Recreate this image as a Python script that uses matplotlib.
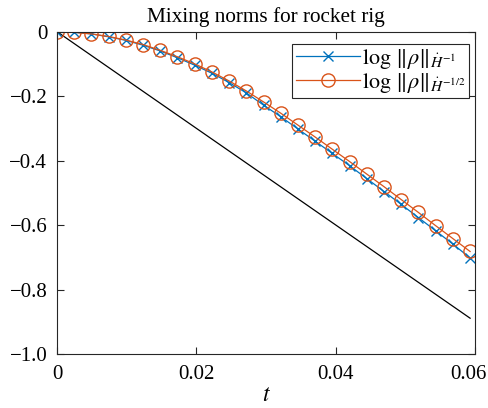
import numpy as np
import matplotlib.pyplot as plt
import matplotlib.transforms as mtransforms

plt.rcParams['font.family'] = ['Liberation Serif', 'DejaVu Serif']
plt.rcParams['mathtext.fontset'] = 'stix'

# sample times (markers)
t = [0.0, 0.00247, 0.00494, 0.00741, 0.00988, 0.01235, 0.01482, 0.01729,
     0.01976, 0.02223, 0.0247, 0.02717, 0.02964, 0.03211, 0.03458, 0.03705,
     0.03952, 0.04199, 0.04446, 0.04693, 0.0494, 0.05187, 0.05434, 0.05681, 0.05928]
norm_m1 = [0.0, -0.002, -0.007, -0.016, -0.027, -0.042, -0.060, -0.081, -0.104,
           -0.129, -0.158, -0.190, -0.228, -0.264, -0.302, -0.340, -0.378, -0.416,
           -0.456, -0.496, -0.536, -0.577, -0.618, -0.659, -0.702]
norm_mhalf = [0.0, -0.002, -0.007, -0.015, -0.026, -0.040, -0.058, -0.078, -0.100,
              -0.125, -0.153, -0.184, -0.218, -0.253, -0.290, -0.327, -0.365, -0.403,
              -0.442, -0.481, -0.521, -0.561, -0.602, -0.642, -0.682]
ref_t = [0.0, 0.05928]
ref_y = [0.0, -0.889]

xticks = [0, 0.02, 0.04, 0.06]
xticklabels = ['0', '0.02', '0.04', '0.06']
yticks = [0, -0.2, -0.4, -0.6, -0.8, -1.0]
yticklabels = ['0', '\u22120.2', '\u22120.4', '\u22120.6', '\u22120.8', '\u22121.0']

fig = plt.figure(figsize=(4.89, 4.08), dpi=100)
ax = fig.add_axes([0.1166, 0.1324, 0.855, 0.79])

ax.plot(ref_t, ref_y, color='k', lw=0.9)
ax.plot(t, norm_m1, color='#0072BD', lw=0.9, marker='x', ms=7, mew=1.0,
        label=r'$\log\,\|\rho\|_{\dot{H}^{-1}}$')
ax.plot(t, norm_mhalf, color='#D95319', lw=0.9, marker='o', ms=9.5, mew=1.0,
        mfc='none', label=r'$\log\,\|\rho\|_{\dot{H}^{-1/2}}$')

ax.set_xlim(0, 0.06)
ax.set_ylim(-1.0, 0)
ax.set_xticks(xticks)
ax.set_xticklabels(xticklabels)
ax.set_yticks(yticks)
ax.set_yticklabels(yticklabels)
ax.tick_params(direction='in', top=True, right=True, labelsize=15, length=5,
               width=0.8, color='#262626')
ax.tick_params(axis='x', pad=8)
ax.tick_params(axis='y', pad=7)
for s in ax.spines.values():
    s.set_color('#262626')
    s.set_linewidth(0.8)

# last x label sits at the figure edge, nudge it in a bit
lab = ax.get_xticklabels()[-1]
lab.set_transform(lab.get_transform() + mtransforms.ScaledTranslation(-7 / 100, 0, fig.dpi_scale_trans))

ax.set_xlabel('$t$', fontsize=17, labelpad=1)
ax.set_title('Mixing norms for rocket rig', fontsize=15.3, pad=7)

leg = ax.legend(loc='upper right', bbox_to_anchor=(0.9856, 0.963), borderaxespad=0,
                fontsize=16, handlelength=2.9, handletextpad=0.1,
                borderpad=0.15, labelspacing=0.0, fancybox=False, framealpha=1,
                edgecolor='#262626')
leg.get_frame().set_linewidth(0.8)

fig.savefig('out.png', dpi=100)
